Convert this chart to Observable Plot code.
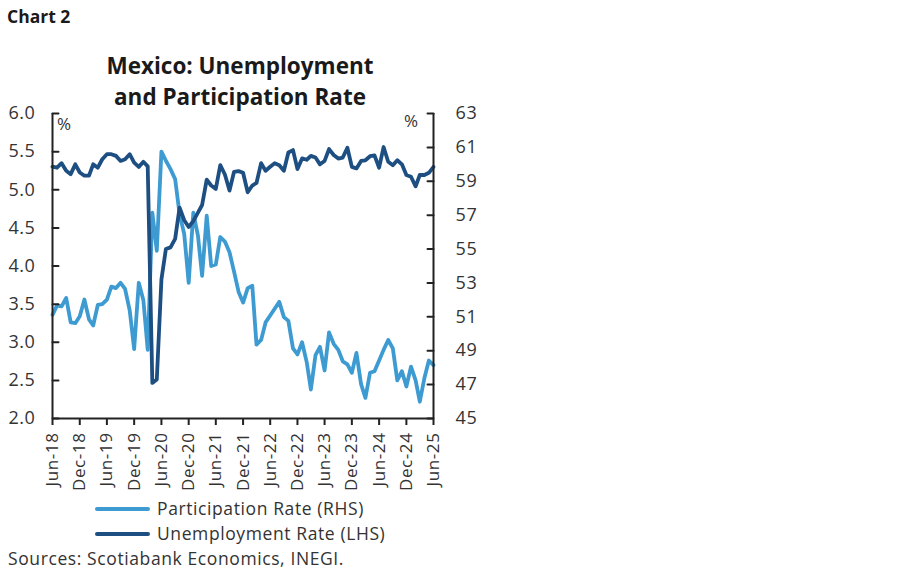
<!DOCTYPE html>
<html><head><meta charset="utf-8">
<script src="https://cdn.jsdelivr.net/npm/d3@7"></script>
<script src="https://cdn.jsdelivr.net/npm/@observablehq/plot@0.6"></script>
<style>
body{margin:0;background:#fff;font-family:"Open Sans",Lato,sans-serif;}
#wrap{position:relative;width:900px;height:579px;overflow:hidden;background:#fff;}
#plot{position:absolute;left:0;top:0;}
.t{position:absolute;white-space:nowrap;color:#1a1a1a;line-height:1;}
#chartno{left:7px;top:8px;font-size:17.5px;font-weight:bold;}
#title{left:60px;width:360px;top:50px;font-size:22.5px;font-weight:bold;text-align:center;line-height:31px;white-space:normal;}
.pct{font-size:17px;color:#333;}
.leg{font-size:17.5px;color:#333;letter-spacing:0.6px;}
.sw{position:absolute;height:4px;border-radius:2px;width:55px;left:95px;}
</style></head><body><div id="wrap">
<div id="plot"></div>
<div class="t" id="chartno">Chart 2</div>
<div class="t" id="title">Mexico: Unemployment<br>and Participation Rate</div>
<div class="t pct" style="left:57px;top:115px;">%</div>
<div class="t pct" style="left:404px;top:112px;">%</div>
<div class="sw" style="top:507px;background:#3d9bd1;"></div>
<div class="t leg" style="left:157px;top:500px;">Participation Rate (RHS)</div>
<div class="sw" style="top:532px;background:#1e4f82;"></div>
<div class="t leg" style="left:157px;top:525px;">Unemployment Rate (LHS)</div>
<div class="t leg" style="left:8px;top:550px;">Sources: Scotiabank Economics, INEGI.</div>
</div>
<script>
// ---- data ----
const startMonth = "2018-06-01";
const endMonth = "2025-06-01";
const xTickLabels = ["Jun-18","Dec-18","Jun-19","Dec-19","Jun-20","Dec-20","Jun-21","Dec-21",
  "Jun-22","Dec-22","Jun-23","Dec-23","Jun-24","Dec-24","Jun-25"];
const leftTicks = [2.0,2.5,3.0,3.5,4.0,4.5,5.0,5.5,6.0];
const rightTicks = [45,47,49,51,53,55,57,59,61,63];
// light blue line, values read against the left axis (%)
const unemploymentRate = [3.36,3.48,3.47,3.58,3.26,3.25,3.34,3.56,3.30,3.22,3.49,3.50,
  3.56,3.73,3.71,3.78,3.70,3.42,2.91,3.78,3.55,2.90,4.70,4.20,
  5.50,5.38,5.27,5.14,4.68,4.42,3.78,4.70,4.40,3.87,4.66,4.00,
  4.02,4.38,4.32,4.18,3.93,3.66,3.52,3.71,3.74,2.97,3.03,3.26,
  3.35,3.44,3.53,3.33,3.28,2.92,2.84,3.00,2.74,2.38,2.83,2.94,
  2.63,3.13,2.98,2.90,2.75,2.71,2.60,2.86,2.45,2.27,2.60,2.62,
  2.76,2.90,3.03,2.92,2.50,2.62,2.42,2.68,2.50,2.22,2.53,2.76,2.70];
// dark blue line, values read against the right axis (%)
const participationRate = [59.86,59.80,60.07,59.62,59.42,60.00,59.52,59.33,59.33,60.00,59.80,60.30,
  60.60,60.60,60.50,60.20,60.30,60.60,60.10,59.85,60.15,59.88,47.10,47.30,
  53.20,55.00,55.10,55.60,57.45,56.70,56.30,56.65,57.15,57.60,59.10,58.75,
  58.55,59.95,59.40,58.45,59.55,59.60,59.50,58.35,58.75,58.90,60.07,59.62,
  59.86,60.07,59.95,59.62,60.70,60.84,59.72,60.35,60.27,60.50,60.40,60.00,
  60.20,60.90,60.55,60.34,60.40,60.98,59.85,59.76,60.20,60.24,60.48,60.53,
  59.80,61.02,60.15,59.95,60.24,60.00,59.37,59.27,58.70,59.37,59.37,59.50,59.85];

const lightColor = "#3d9bd1";
const darkColor = "#1e4f82";
const axisColor = "#222";

// ---- build ----
const x0 = new Date(startMonth + "T00:00:00Z");
const x1 = new Date(endMonth + "T00:00:00Z");
const months = d3.utcMonth.range(x0, d3.utcMonth.offset(x1, 1));
const parseTick = d3.utcParse("%b-%y");
const xTicks = xTickLabels.map(parseTick);
// right axis mapped onto the left scale
const rToL = r => 2 + (r - 45) * 4 / 18;
const lToR = l => 45 + (l - 2) * 18 / 4;

const lightData = months.map((d, i) => ({date: d, v: unemploymentRate[i]}));
const darkData = months.map((d, i) => ({date: d, v: rToL(participationRate[i])}));

const tickShape = {draw(context, l) { context.moveTo(0, 0); context.lineTo(0, -l); }};

const chart = Plot.plot({
  width: 900,
  height: 579,
  marginLeft: 52,
  marginRight: 467,
  marginTop: 113,
  marginBottom: 161,
  style: {fontFamily: "'Open Sans', Lato, sans-serif", fontSize: "18px", color: "#333", overflow: "visible", background: "transparent", letterSpacing: "0.6px"},
  x: {type: "utc", domain: [x0, x1]},
  y: {domain: [2, 6]},
  marks: [
    Plot.line(lightData, {x: "date", y: "v", stroke: lightColor, strokeWidth: 3.8, strokeLinejoin: "round"}),
    Plot.line(darkData, {x: "date", y: "v", stroke: darkColor, strokeWidth: 3.8, strokeLinejoin: "round"}),
    Plot.ruleX([x0], {stroke: axisColor, strokeWidth: 2}),
    Plot.ruleX([x1], {stroke: axisColor, strokeWidth: 2}),
    Plot.ruleY([2], {stroke: axisColor, strokeWidth: 2}),
    Plot.vector(leftTicks, {y: d => d, frameAnchor: "left", length: 6, rotate: 90, anchor: "start", shape: tickShape, stroke: axisColor, strokeWidth: 2}),
    Plot.vector(rightTicks.map(rToL), {y: d => d, frameAnchor: "right", length: 6, rotate: 270, anchor: "start", shape: tickShape, stroke: axisColor, strokeWidth: 2}),
    Plot.axisY({anchor: "left", ticks: leftTicks, tickSize: 0, tickPadding: 17, tickFormat: d3.format(".1f"), label: null, fontSize: 18}),
    Plot.axisY({anchor: "right", ticks: rightTicks.map(rToL), tickSize: 0, tickPadding: 22, tickFormat: d => String(Math.round(lToR(d))), label: null, fontSize: 18}),
    Plot.axisX({ticks: xTicks, tickFormat: d3.utcFormat("%b-%y"), tickRotate: -90, tickSize: 7, tickPadding: 7, strokeWidth: 2, stroke: axisColor, label: null, fontSize: 17, letterSpacing: 1.1})
  ]
});
document.getElementById("plot").appendChild(chart);
</script>
</body></html>
